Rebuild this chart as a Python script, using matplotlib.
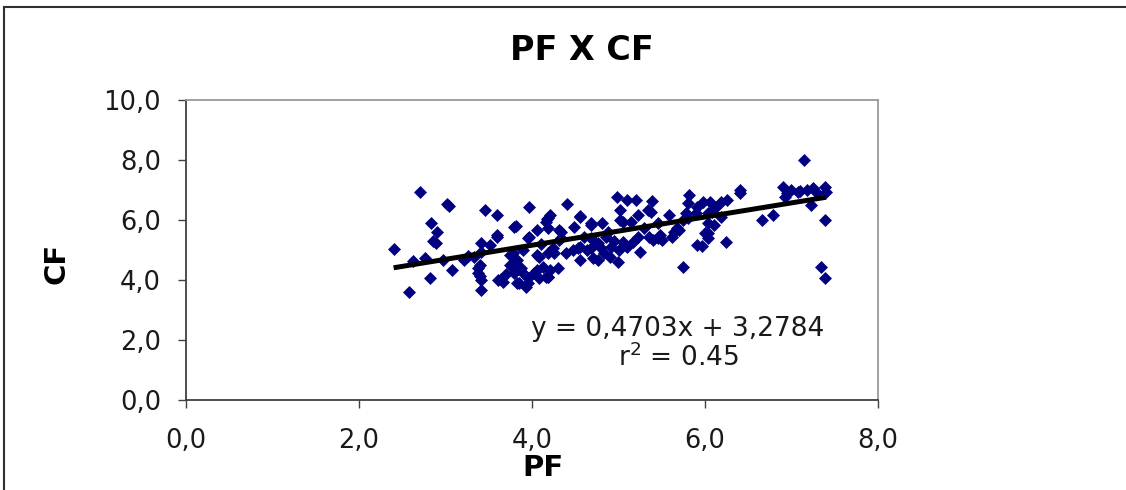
import matplotlib
matplotlib.use("Agg")
import matplotlib.pyplot as plt
from matplotlib.lines import Line2D
from matplotlib.ticker import FuncFormatter
import numpy as np

# PF (x) and CF (y) values
pf = [2.40, 2.58, 2.70, 3.04, 3.02, 3.46, 3.60, 2.83, 2.90, 2.89,
      2.86, 2.62, 2.76, 2.97, 2.82, 3.08, 3.41, 3.52, 3.60, 3.21,
      3.33, 3.37, 3.38, 3.41, 3.41, 3.40, 3.40, 3.60, 3.26, 3.41,
      3.61, 3.64, 3.67, 3.96, 4.17, 3.79, 3.81, 4.06, 3.95, 3.96,
      3.78, 3.75, 4.06, 4.08, 4.18, 3.90, 3.83, 3.87, 3.83, 3.79,
      3.90, 3.83, 3.85, 3.95, 3.93, 4.02, 3.95, 4.08, 4.13, 4.18,
      4.16, 4.06, 4.21, 3.70, 3.75, 4.16, 4.21, 4.10,
      4.41, 4.19, 4.55, 4.56, 4.18, 4.31, 4.33, 4.48, 4.68, 4.68,
      4.81, 4.31, 4.33, 4.60, 4.70, 4.68, 4.85, 4.91, 4.79, 4.68,
      4.53, 4.24, 4.39, 4.25, 4.47, 4.64, 4.56, 4.76, 4.71, 4.56,
      4.76, 4.83, 4.99, 4.30, 4.19, 4.90, 4.95, 4.88,
      4.98, 5.10, 5.20, 5.39, 5.81, 5.80, 5.91, 5.98, 5.02, 5.37,
      5.34, 5.58, 5.23, 5.02, 5.05, 5.14, 5.29, 5.46, 5.68, 5.80,
      5.75, 5.05, 5.22, 5.35, 5.46, 5.62, 5.91, 6.00, 5.25, 5.75,
      5.50, 5.40, 5.10, 5.00, 5.17, 5.64, 5.70, 5.78, 5.90, 5.48,
      6.06, 6.18, 6.26, 6.03, 6.18, 6.03, 6.03, 6.04, 5.97, 6.24,
      6.40, 6.40, 6.90, 6.99, 7.07, 7.18, 7.25, 7.39, 7.40, 7.22,
      6.93, 7.14, 6.66, 6.79, 7.39, 7.34, 7.39, 6.08, 6.10, 7.30,
      7.10, 6.95, 6.12]
cf = [5.03, 3.60, 6.93, 6.47, 6.53, 6.33, 6.17, 5.90, 5.60, 5.23,
      5.30, 4.63, 4.73, 4.67, 4.07, 4.33, 5.23, 5.17, 5.43, 4.67,
      4.77, 4.40, 4.23, 4.00, 3.67, 4.13, 4.50, 5.50, 4.80, 4.93,
      4.00, 4.05, 3.95, 6.43, 6.03, 5.77, 5.80, 5.67, 5.40, 5.43,
      4.90, 4.83, 4.83, 4.77, 4.90, 5.00, 4.67, 4.40, 4.43, 4.23,
      4.23, 3.90, 3.90, 3.90, 3.77, 4.23, 4.07, 4.07, 4.43, 4.10,
      4.10, 4.33, 4.33, 4.20, 4.50, 5.93, 6.17, 5.20,
      6.53, 6.07, 6.10, 6.13, 5.73, 5.67, 5.60, 5.77, 5.83, 5.90,
      5.90, 5.33, 5.40, 5.43, 5.33, 5.40, 5.43, 5.10, 5.10, 5.07,
      5.07, 5.07, 4.90, 4.90, 5.00, 5.00, 5.10, 5.23, 4.73, 4.67,
      4.67, 4.90, 4.60, 4.40, 4.10, 4.77, 5.30, 5.60,
      6.77, 6.67, 6.67, 6.63, 6.83, 6.57, 6.43, 6.60, 6.33, 6.27,
      6.33, 6.17, 6.17, 6.00, 5.93, 5.93, 5.73, 5.90, 5.73, 6.07,
      6.00, 5.27, 5.43, 5.43, 5.40, 5.43, 5.17, 5.57, 4.93, 4.43,
      5.33, 5.33, 5.10, 5.00, 5.27, 5.60, 5.67, 6.23, 6.23, 5.50,
      6.60, 6.60, 6.67, 6.23, 6.10, 5.90, 5.57, 5.40, 5.13, 5.27,
      7.00, 6.90, 7.10, 7.00, 6.93, 7.00, 7.07, 7.10, 6.93, 6.50,
      6.77, 8.00, 6.00, 6.17, 6.00, 4.43, 4.07, 6.27, 5.83, 6.90,
      6.95, 6.90, 6.40]

# trend line as printed on the chart
slope = 0.4703
intercept = 3.2784
r2 = 0.45

x_ticks = [0, 2, 4, 6, 8]
y_ticks = [0, 2, 4, 6, 8, 10]

fig = plt.figure(figsize=(11.26, 4.9), dpi=100, facecolor='white')
ax = fig.add_axes([186 / 1126, 1 - 400 / 490, (878 - 186) / 1126, 300 / 490])

ax.plot(pf, cf, linestyle='none', marker='D', markersize=6.0,
        color='#000080', markeredgecolor='#000080', markeredgewidth=0.5)

xs = np.array([min(pf), max(pf)])
ax.plot(xs, slope * xs + intercept, color='black', linewidth=3.6,
        solid_capstyle='butt')

ax.set_xlim(0, 8)
ax.set_ylim(0, 10)
ax.set_xticks(x_ticks)
ax.set_yticks(y_ticks)
comma = FuncFormatter(lambda v, p: f'{v:.1f}'.replace('.', ','))
ax.xaxis.set_major_formatter(comma)
ax.yaxis.set_major_formatter(comma)
ax.tick_params(axis='both', direction='out', length=6, width=1,
               colors='#404040', labelcolor='#1a1a1a', labelsize=18.5)
ax.tick_params(axis='x', pad=14)
ax.tick_params(axis='y', pad=12)

for side in ['left', 'bottom']:
    ax.spines[side].set_color('#404040')
    ax.spines[side].set_linewidth(1.3)
for side in ['top', 'right']:
    ax.spines[side].set_color('#9a9a9a')
    ax.spines[side].set_linewidth(1.3)

ax.text((678 - 186) / (878 - 186), (400 - 329) / 300,
        f'y = {slope:.4f}x + {intercept:.4f}'.replace('.', ','),
        transform=ax.transAxes, ha='center', va='center',
        fontsize=19, color='#1a1a1a')
ax.text((678 - 186) / (878 - 186), (400 - 358) / 300,
        r'r$^{2}$ = ' + f'{r2:.2f}', transform=ax.transAxes,
        ha='center', va='center', fontsize=19, color='#1a1a1a')

fig.text(582 / 1126, 1 - 50 / 490, 'PF X CF', ha='center', va='center',
         fontsize=24, fontweight='bold')
fig.text(57 / 1126, 1 - 263 / 490, 'CF', ha='center', va='center',
         rotation=90, fontsize=21, fontweight='bold')
fig.text(543 / 1126, 1 - 468 / 490, 'PF', ha='center', va='center',
         fontsize=21, fontweight='bold')

# outer chart frame (only left and top edges are inside the picture)
fig.add_artist(Line2D([4 / 1126, 4 / 1126], [0, 1 - 7 / 490],
                      transform=fig.transFigure, color='#303030', linewidth=1.5))
fig.add_artist(Line2D([4 / 1126, 1], [1 - 7 / 490, 1 - 7 / 490],
                      transform=fig.transFigure, color='#303030', linewidth=1.5))

fig.savefig('out.png', dpi=100)
plt.close(fig)
